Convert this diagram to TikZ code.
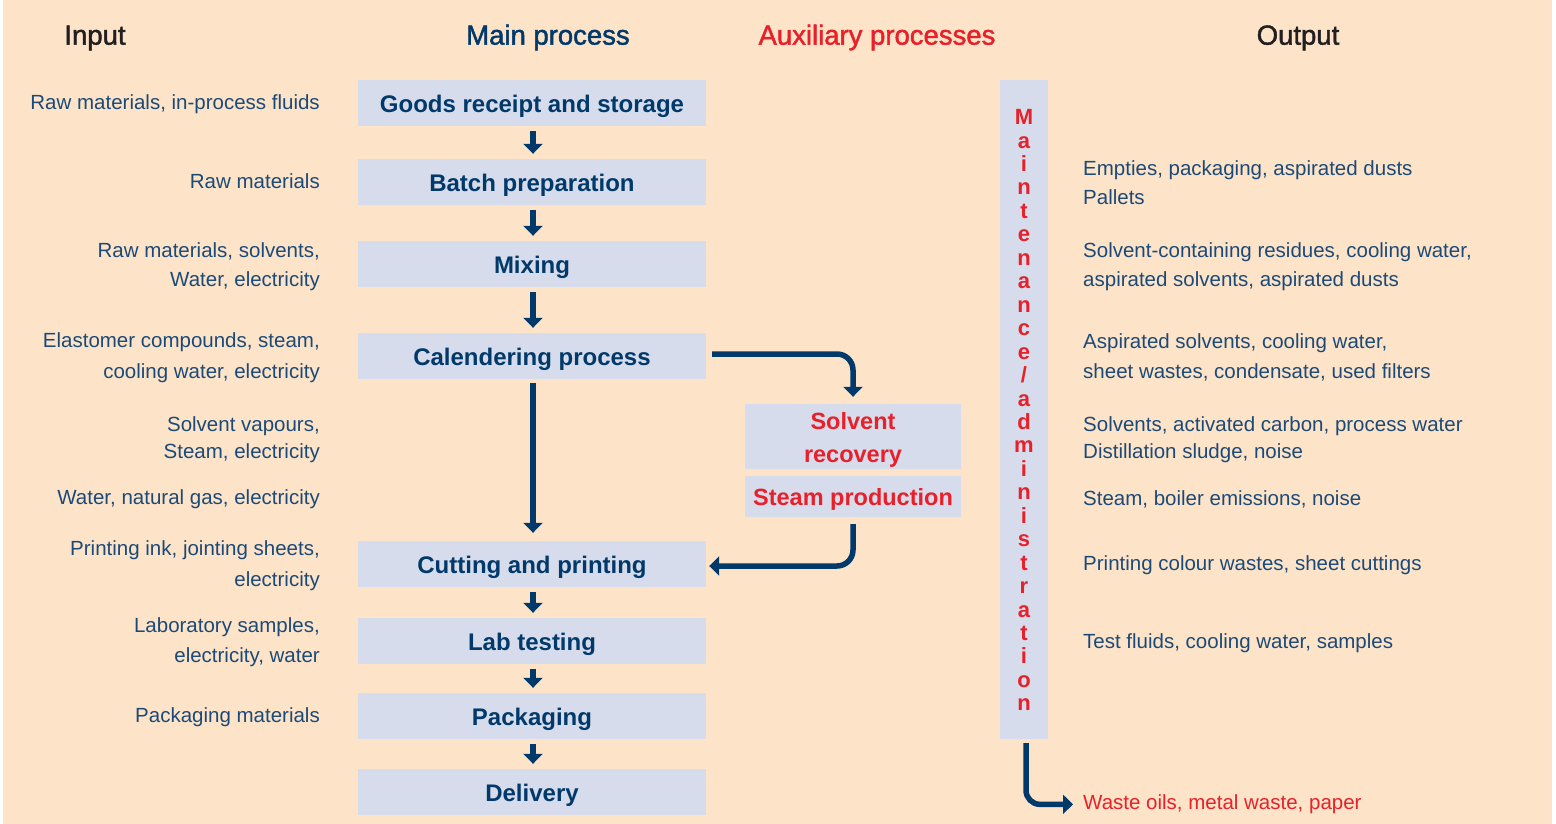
\documentclass[tikz,border=0pt]{standalone}
\usepackage{fontspec}
\setmainfont{Liberation Sans}
\newfontfamily\headfont[FakeBold=1.6]{Liberation Sans}
\usetikzlibrary{arrows.meta}

\definecolor{peach}{RGB}{253,228,200}
\definecolor{boxc}{RGB}{214,220,235}
\definecolor{navy}{RGB}{0,57,106}
\definecolor{bodyblue}{RGB}{28,74,120}
\definecolor{accent}{RGB}{232,32,42}
\definecolor{ink}{RGB}{35,31,32}

\tikzset{
  mbox/.style={fill=boxc, minimum width=348pt, minimum height=46pt, inner sep=0pt,
    text height=18.5pt, text depth=0pt,
    font=\fontsize{24}{28}\selectfont\bfseries, text=navy},
  abox/.style={fill=boxc, minimum width=216pt, inner sep=0pt, align=center,
    font=\fontsize{23.5}{33}\selectfont\bfseries, text=accent},
  head/.style={font=\fontsize{27.5}{32}\headfont, anchor=mid, yshift=-6pt},
  intext/.style={font=\fontsize{20.5}{30}\selectfont, text=bodyblue, anchor=mid east, inner sep=0pt, yshift=-5pt},
  outtext/.style={font=\fontsize{20.5}{30}\selectfont, text=bodyblue, anchor=mid west, inner sep=0pt, yshift=-5pt},
  flow/.style={draw=navy, line width=5.5pt, -{Triangle[width=19pt,length=10pt]}},
  mletter/.style={font=\fontsize{22}{24}\selectfont\bfseries, text=accent, anchor=mid, inner sep=0pt},
}

\begin{document}
\begin{tikzpicture}[x=1pt, y=-1pt]
  % page area and background
  \useasboundingbox (0,0) rectangle (1556,824);
  \fill[white] (0,0) rectangle (1556,824);
  \fill[peach] (3,0) rectangle (1552,824);

  % column headings
  \node[head, text=ink]  (hin)  at (95,36)   {Input};
  \node[head, text=navy] (hmain) at (548,36) {Main process};
  \node[head, text=accent] (haux) at (877,36) {Auxiliary processes};
  \node[head, text=ink]  (hout) at (1298,36) {Output};

  % main process chain
  \node[mbox] (goods) at (532,103) {Goods receipt and storage};
  \node[mbox] (batch) at (532,182) {Batch preparation};
  \node[mbox] (mix)   at (532,264) {Mixing};
  \node[mbox] (cal)   at (532,356) {Calendering process};
  \node[mbox] (cut)   at (532,564) {Cutting and printing};
  \node[mbox] (lab)   at (532,641) {Lab testing};
  \node[mbox] (pack)  at (532,716) {Packaging};
  \node[mbox] (deliv) at (532,792) {Delivery};

  \foreach \a/\b in {goods/batch, batch/mix, mix/cal, cut/lab, lab/pack, pack/deliv}
    \draw[flow] ([xshift=1pt,yshift=-5pt]\a.south) -- ([xshift=1pt,yshift=5pt]\b.north);
  \draw[flow] ([xshift=1pt,yshift=-4pt]cal.south) -- ([xshift=1pt,yshift=8pt]cut.north);

  % auxiliary processes
  \node[abox, minimum height=65pt, text height=51pt, text depth=0pt] (solv) at (853,436.5) {Solvent\\recovery};
  \node[abox, minimum height=41pt, text height=18.5pt, text depth=0pt] (steam) at (853,496.5) {Steam production};

  \draw[flow, rounded corners=16pt] ([xshift=6pt,yshift=2pt]cal.east) -| ([yshift=7pt]solv.north);
  \draw[flow, rounded corners=16pt] ([yshift=-7pt]steam.south) |- ([xshift=3pt,yshift=-2pt]cut.east);

  % maintenance / administration column
  \node[fill=boxc, minimum width=48pt, minimum height=659pt, inner sep=0pt] (maint) at (1024,409.5) {};
  \foreach \l [count=\i from 0] in {M,a,i,n,t,e,n,a,n,c,e,/,a,d,m,i,n,i,s,t,r,a,t,i,o,n}
    \node[mletter] (ml\i) at (1024,{122+23.45*\i}) {\l};

  \node[outtext, text=accent] (waste) at (1083,802) {Waste oils, metal waste, paper};
  \draw[flow, rounded corners=14pt] ([xshift=2pt,yshift=-4pt]maint.south) |- ([xshift=-10pt]waste.west);

  % inputs
  \node[intext] (in1)  at (320,102) {Raw materials, in-process fluids};
  \node[intext] (in2)  at (320,181) {Raw materials};
  \node[intext] (in3a) at (320,250) {Raw materials, solvents,};
  \node[intext] (in3b) at (320,279) {Water, electricity};
  \node[intext] (in4a) at (320,340) {Elastomer compounds, steam,};
  \node[intext] (in4b) at (320,371) {cooling water, electricity};
  \node[intext] (in5a) at (320,424) {Solvent vapours,};
  \node[intext] (in5b) at (320,451) {Steam, electricity};
  \node[intext] (in6)  at (320,497) {Water, natural gas, electricity};
  \node[intext] (in7a) at (320,548) {Printing ink, jointing sheets,};
  \node[intext] (in7b) at (320,579) {electricity};
  \node[intext] (in8a) at (320,625) {Laboratory samples,};
  \node[intext] (in8b) at (320,655) {electricity, water};
  \node[intext] (in9)  at (320,715) {Packaging materials};

  % outputs
  \node[outtext] (out1a) at (1083,168) {Empties, packaging, aspirated dusts};
  \node[outtext] (out1b) at (1083,197) {Pallets};
  \node[outtext] (out2a) at (1083,250) {Solvent-containing residues, cooling water,};
  \node[outtext] (out2b) at (1083,279) {aspirated solvents, aspirated dusts};
  \node[outtext] (out3a) at (1083,341) {Aspirated solvents, cooling water,};
  \node[outtext] (out3b) at (1083,371) {sheet wastes, condensate, used filters};
  \node[outtext] (out4a) at (1083,424) {Solvents, activated carbon, process water};
  \node[outtext] (out4b) at (1083,451) {Distillation sludge, noise};
  \node[outtext] (out5)  at (1083,498) {Steam, boiler emissions, noise};
  \node[outtext] (out6)  at (1083,563) {Printing colour wastes, sheet cuttings};
  \node[outtext] (out7)  at (1083,641) {Test fluids, cooling water, samples};
\end{tikzpicture}
\end{document}
